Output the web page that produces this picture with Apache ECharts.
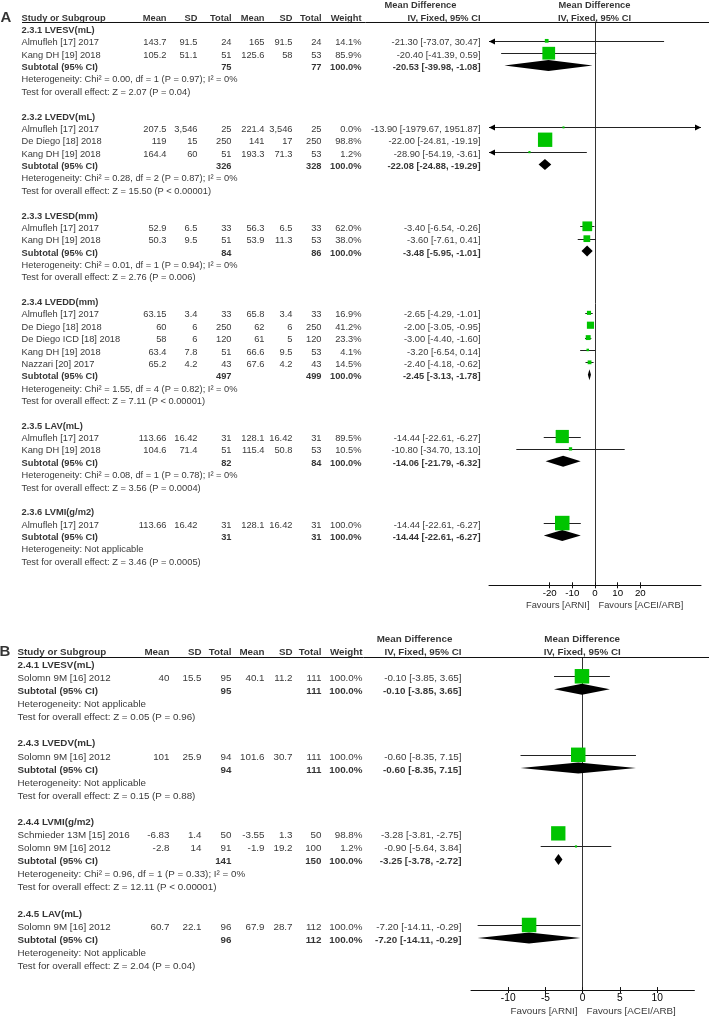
<!DOCTYPE html>
<html>
<head>
<meta charset="utf-8">
<script src="https://cdn.jsdelivr.net/npm/echarts@6/dist/echarts.min.js"></script>
<style>
  html, body { margin: 0; padding: 0; background: #fff; }
  #chart { width: 709px; height: 1019px; }
</style>
</head>
<body>
<div id="chart"></div>
<script>
// [subgroup, study, mean ARNI, SD, total, mean ACEI/ARB, SD, total, weight %, MD, CI low, CI high]
const studiesA = [
  ['2.3.1', 'Almufleh [17] 2017', 143.7, 91.5, 24, 165, 91.5, 24, 14.1, -21.30, -73.07, 30.47],
  ['2.3.1', 'Kang DH [19] 2018', 105.2, 51.1, 51, 125.6, 58, 53, 85.9, -20.40, -41.39, 0.59],
  ['2.3.2', 'Almufleh [17] 2017', 207.5, 3546, 25, 221.4, 3546, 25, 0.0, -13.90, -1979.67, 1951.87],
  ['2.3.2', 'De Diego [18] 2018', 119, 15, 250, 141, 17, 250, 98.8, -22.00, -24.81, -19.19],
  ['2.3.2', 'Kang DH [19] 2018', 164.4, 60, 51, 193.3, 71.3, 53, 1.2, -28.90, -54.19, -3.61],
  ['2.3.3', 'Almufleh [17] 2017', 52.9, 6.5, 33, 56.3, 6.5, 33, 62.0, -3.40, -6.54, -0.26],
  ['2.3.3', 'Kang DH [19] 2018', 50.3, 9.5, 51, 53.9, 11.3, 53, 38.0, -3.60, -7.61, 0.41],
  ['2.3.4', 'Almufleh [17] 2017', 63.15, 3.4, 33, 65.8, 3.4, 33, 16.9, -2.65, -4.29, -1.01],
  ['2.3.4', 'De Diego [18] 2018', 60, 6, 250, 62, 6, 250, 41.2, -2.00, -3.05, -0.95],
  ['2.3.4', 'De Diego ICD [18] 2018', 58, 6, 120, 61, 5, 120, 23.3, -3.00, -4.40, -1.60],
  ['2.3.4', 'Kang DH [19] 2018', 63.4, 7.8, 51, 66.6, 9.5, 53, 4.1, -3.20, -6.54, 0.14],
  ['2.3.4', 'Nazzari [20] 2017', 65.2, 4.2, 43, 67.6, 4.2, 43, 14.5, -2.40, -4.18, -0.62],
  ['2.3.5', 'Almufleh [17] 2017', 113.66, 16.42, 31, 128.1, 16.42, 31, 89.5, -14.44, -22.61, -6.27],
  ['2.3.5', 'Kang DH [19] 2018', 104.6, 71.4, 51, 115.4, 50.8, 53, 10.5, -10.80, -34.70, 13.10],
  ['2.3.6', 'Almufleh [17] 2017', 113.66, 16.42, 31, 128.1, 16.42, 31, 100.0, -14.44, -22.61, -6.27]
];

// [subgroup, title, total ARNI, total ACEI/ARB, MD, CI low, CI high, heterogeneity, overall effect]
const subgroupsA = [
  ['2.3.1', '2.3.1 LVESV(mL)', 75, 77, -20.53, -39.98, -1.08,
    'Heterogeneity: Chi² = 0.00, df = 1 (P = 0.97); I² = 0%', 'Test for overall effect: Z = 2.07 (P = 0.04)'],
  ['2.3.2', '2.3.2 LVEDV(mL)', 326, 328, -22.08, -24.88, -19.29,
    'Heterogeneity: Chi² = 0.28, df = 2 (P = 0.87); I² = 0%', 'Test for overall effect: Z = 15.50 (P < 0.00001)'],
  ['2.3.3', '2.3.3 LVESD(mm)', 84, 86, -3.48, -5.95, -1.01,
    'Heterogeneity: Chi² = 0.01, df = 1 (P = 0.94); I² = 0%', 'Test for overall effect: Z = 2.76 (P = 0.006)'],
  ['2.3.4', '2.3.4 LVEDD(mm)', 497, 499, -2.45, -3.13, -1.78,
    'Heterogeneity: Chi² = 1.55, df = 4 (P = 0.82); I² = 0%', 'Test for overall effect: Z = 7.11 (P < 0.00001)'],
  ['2.3.5', '2.3.5 LAV(mL)', 82, 84, -14.06, -21.79, -6.32,
    'Heterogeneity: Chi² = 0.08, df = 1 (P = 0.78); I² = 0%', 'Test for overall effect: Z = 3.56 (P = 0.0004)'],
  ['2.3.6', '2.3.6 LVMI(g/m2)', 31, 31, -14.44, -22.61, -6.27,
    'Heterogeneity: Not applicable', 'Test for overall effect: Z = 3.46 (P = 0.0005)']
];

const studiesB = [
  ['2.4.1', 'Solomn 9M [16] 2012', 40, 15.5, 95, 40.1, 11.2, 111, 100.0, -0.10, -3.85, 3.65],
  ['2.4.3', 'Solomn 9M [16] 2012', 101, 25.9, 94, 101.6, 30.7, 111, 100.0, -0.60, -8.35, 7.15],
  ['2.4.4', 'Schmieder 13M [15] 2016', -6.83, 1.4, 50, -3.55, 1.3, 50, 98.8, -3.28, -3.81, -2.75],
  ['2.4.4', 'Solomn 9M [16] 2012', -2.8, 14, 91, -1.9, 19.2, 100, 1.2, -0.90, -5.64, 3.84],
  ['2.4.5', 'Solomn 9M [16] 2012', 60.7, 22.1, 96, 67.9, 28.7, 112, 100.0, -7.20, -14.11, -0.29]
];

const subgroupsB = [
  ['2.4.1', '2.4.1 LVESV(mL)', 95, 111, -0.10, -3.85, 3.65,
    'Heterogeneity: Not applicable', 'Test for overall effect: Z = 0.05 (P = 0.96)'],
  ['2.4.3', '2.4.3 LVEDV(mL)', 94, 111, -0.60, -8.35, 7.15,
    'Heterogeneity: Not applicable', 'Test for overall effect: Z = 0.15 (P = 0.88)'],
  ['2.4.4', '2.4.4 LVMI(g/m2)', 141, 150, -3.25, -3.78, -2.72,
    'Heterogeneity: Chi² = 0.96, df = 1 (P = 0.33); I² = 0%', 'Test for overall effect: Z = 12.11 (P < 0.00001)'],
  ['2.4.5', '2.4.5 LAV(mL)', 96, 112, -7.20, -14.11, -0.29,
    'Heterogeneity: Not applicable', 'Test for overall effect: Z = 2.04 (P = 0.04)']
];

const ticksA = [-20, -10, 0, 10, 20];
const ticksB = [-10, -5, 0, 5, 10];
const columnHeaders = ['Study or Subgroup', 'Mean', 'SD', 'Total', 'Mean', 'SD', 'Total', 'Weight'];
const mdHeaders = ['Mean Difference', 'IV, Fixed, 95% CI'];
const favoursLabels = ['Favours [ARNI]', 'Favours [ACEI/ARB]'];

const FONT = '"Liberation Sans", Arial, Helvetica, sans-serif';
const GREEN = '#00c400';
const MARK_SHIFT = -2.5; // marks sit slightly above the text baseline centre

// layout of the two panels (pixels)
const panels = [
  {
    letter: 'A', studies: studiesA, groups: subgroupsA, ticks: ticksA,
    row0: 18.6, rowH: 12.365, font: 9.3,
    studyX: 22, numX: [167, 198, 232, 265, 293, 322, 362], mdX: 481, mdHeadX: 421,
    plotLeft: 489, plotWidth: 212, xMax: 46.75,
    ruleRow: 0.275, axisRow: 45.83, favRow: 47.48, favX: [590, 599], letterX: 1
  },
  {
    letter: 'B', studies: studiesB, groups: subgroupsB, ticks: ticksB,
    row0: 652.6, rowH: 13.09, font: 9.8,
    studyX: 18, numX: [170, 202, 232, 265, 293, 322, 363], mdX: 462, mdHeadX: 415,
    plotLeft: 471, plotWidth: 223.4, xMax: 15,
    ruleRow: 0.39, axisRow: 25.78, favRow: 27.43, favX: [578, 587], letterX: 0
  }
];

function fmtNum(v) {
  return v.toLocaleString('en-US', { maximumFractionDigits: 3 });
}

function fmtMD(md, lo, hi) {
  return md.toFixed(2) + ' [' + lo.toFixed(2) + ', ' + hi.toFixed(2) + ']';
}

function buildRows(studies, groups) {
  const rows = [];
  let r = 1;
  groups.forEach(g => {
    rows.push({ row: r++, type: 'group', g });
    studies.filter(s => s[0] === g[0]).forEach(s => rows.push({ row: r++, type: 'study', s }));
    rows.push({ row: r++, type: 'subtotal', g });
    rows.push({ row: r++, type: 'note', text: g[7] });
    rows.push({ row: r++, type: 'note', text: g[8] });
    r++;
  });
  return rows;
}

function txt(x, row, text, align, bold, size) {
  const label = { formatter: text, align: align };
  if (bold) label.fontWeight = 'bold';
  if (size) label.fontSize = size;
  return { value: [x, row], label };
}

function renderCI(params, api) {
  const cs = params.coordSys;
  const row = api.value(1);
  const y = Math.round(api.coord([0, row])[1] + MARK_SHIFT) + 0.5;
  let x1 = api.coord([api.value(2), row])[0];
  let x2 = api.coord([api.value(3), row])[0];
  const L = cs.x, R = cs.x + cs.width;
  const cutL = x1 < L, cutR = x2 > R;
  x1 = Math.max(x1, L);
  x2 = Math.min(x2, R);
  const children = [{
    type: 'line', shape: { x1: x1, y1: y, x2: x2, y2: y },
    style: { stroke: '#222', lineWidth: 1 }
  }];
  if (cutL) children.push({ type: 'polygon', shape: { points: [[L, y], [L + 6, y - 3], [L + 6, y + 3]] }, style: { fill: '#000' } });
  if (cutR) children.push({ type: 'polygon', shape: { points: [[R, y], [R - 6, y - 3], [R - 6, y + 3]] }, style: { fill: '#000' } });
  return { type: 'group', children };
}

function renderDiamond(params, api) {
  const row = api.value(1);
  const c = api.coord([api.value(0), row]);
  const y = c[1] + MARK_SHIFT;
  const x1 = api.coord([api.value(2), row])[0];
  const x2 = api.coord([api.value(3), row])[0];
  const h = 5.5;
  return {
    type: 'polygon',
    shape: { points: [[x1, y], [c[0], y - h], [x2, y], [c[0], y + h]] },
    style: { fill: '#000' }
  };
}

const grids = [], xAxes = [], yAxes = [], series = [];

panels.forEach(p => {
  const yMin = -1.6, yMax = p.favRow + 0.8;
  const gT = grids.length, xT = xAxes.length, yT = yAxes.length;

  grids.push({ left: 0, width: 709, top: p.row0 + yMin * p.rowH, height: (yMax - yMin) * p.rowH, outerBoundsMode: 'none' });
  grids.push({ left: p.plotLeft, width: p.plotWidth, top: p.row0 + p.ruleRow * p.rowH, height: (p.axisRow - p.ruleRow) * p.rowH, outerBoundsMode: 'none' });

  xAxes.push({ gridIndex: gT, type: 'value', min: 0, max: 709, show: false });
  xAxes.push({
    gridIndex: gT + 1, type: 'value', min: -p.xMax, max: p.xMax, position: 'bottom',
    axisLine: { onZero: false, lineStyle: { color: '#111', width: 1 } },
    axisTick: { customValues: p.ticks, length: 3, lineStyle: { color: '#111' } },
    axisLabel: { customValues: p.ticks, margin: 3, color: '#000', fontSize: p.font + 0.4, fontFamily: FONT },
    splitLine: { show: false }
  });
  xAxes.push({
    gridIndex: gT + 1, type: 'value', min: -p.xMax, max: p.xMax, position: 'bottom',
    axisLine: { show: false, onZero: false },
    axisTick: { customValues: p.ticks, inside: true, length: 3, lineStyle: { color: '#111' } },
    axisLabel: { show: false },
    splitLine: { show: false }
  });

  yAxes.push({ gridIndex: gT, type: 'value', min: yMin, max: yMax, inverse: true, show: false });
  yAxes.push({
    gridIndex: gT + 1, type: 'value', min: p.ruleRow, max: p.axisRow, inverse: true,
    axisLine: { show: true, onZero: true, lineStyle: { color: '#333', width: 1 } },
    axisTick: { show: false }, axisLabel: { show: false }, splitLine: { show: false }
  });

  const rows = buildRows(p.studies, p.groups);
  const plotCenter = p.plotLeft + p.plotWidth / 2;

  // table text
  const items = [];
  items.push(txt(p.letterX, 0, p.letter, 'left', true, 15));
  items.push(txt(p.studyX, 0, columnHeaders[0], 'left', true));
  p.numX.forEach((x, i) => items.push(txt(x, 0, columnHeaders[i + 1], 'right', true)));
  items.push(txt(p.mdHeadX, -1, mdHeaders[0], 'center', true));
  items.push(txt(p.mdX, 0, mdHeaders[1], 'right', true));
  items.push(txt(plotCenter, -1, mdHeaders[0], 'center', true));
  items.push(txt(plotCenter, 0, mdHeaders[1], 'center', true));

  rows.forEach(r => {
    if (r.type === 'group') {
      items.push(txt(p.studyX, r.row, r.g[1], 'left', true));
    } else if (r.type === 'study') {
      const s = r.s;
      items.push(txt(p.studyX, r.row, s[1], 'left'));
      for (let k = 0; k < 6; k++) items.push(txt(p.numX[k], r.row, fmtNum(s[2 + k]), 'right'));
      items.push(txt(p.numX[6], r.row, s[8].toFixed(1) + '%', 'right'));
      items.push(txt(p.mdX, r.row, fmtMD(s[9], s[10], s[11]), 'right'));
    } else if (r.type === 'subtotal') {
      const g = r.g;
      items.push(txt(p.studyX, r.row, 'Subtotal (95% CI)', 'left', true));
      items.push(txt(p.numX[2], r.row, fmtNum(g[2]), 'right', true));
      items.push(txt(p.numX[5], r.row, fmtNum(g[3]), 'right', true));
      items.push(txt(p.numX[6], r.row, '100.0%', 'right', true));
      items.push(txt(p.mdX, r.row, fmtMD(g[4], g[5], g[6]), 'right', true));
    } else {
      items.push(txt(p.studyX, r.row, r.text, 'left'));
    }
  });
  items.push(txt(p.favX[0], p.favRow, favoursLabels[0], 'right'));
  items.push(txt(p.favX[1], p.favRow, favoursLabels[1], 'left'));

  series.push({
    type: 'scatter', xAxisIndex: xT, yAxisIndex: yT, symbolSize: 1, silent: true, clip: false,
    itemStyle: { color: 'rgba(0,0,0,0)' },
    label: {
      show: true, position: [0, 0], verticalAlign: 'middle', color: '#000',
      fontFamily: FONT, fontSize: p.font
    },
    data: items,
    markLine: {
      silent: true, symbol: ['none', 'none'], animation: false,
      label: { show: false },
      lineStyle: { type: 'solid', color: '#111', width: 1 },
      data: [[{ coord: [p.studyX, p.ruleRow] }, { coord: [709, p.ruleRow] }]]
    }
  });

  // forest marks
  const studyRows = rows.filter(r => r.type === 'study');
  const subRows = rows.filter(r => r.type === 'subtotal');

  series.push({
    type: 'custom', xAxisIndex: xT + 1, yAxisIndex: yT + 1, silent: true, clip: false, z: 3,
    renderItem: renderCI, encode: { x: 0, y: 1 },
    data: studyRows.map(r => [r.s[9], r.row, r.s[10], r.s[11]])
  });
  series.push({
    type: 'scatter', xAxisIndex: xT + 1, yAxisIndex: yT + 1, silent: true, z: 4,
    symbol: 'rect', symbolSize: v => 2 + 12.5 * v[2] / 100, symbolOffset: [0, MARK_SHIFT],
    itemStyle: { color: GREEN, opacity: 1 },
    data: studyRows.map(r => [r.s[9], r.row, r.s[8]])
  });
  series.push({
    type: 'custom', xAxisIndex: xT + 1, yAxisIndex: yT + 1, silent: true, clip: false, z: 4,
    renderItem: renderDiamond, encode: { x: 0, y: 1 },
    data: subRows.map(r => [r.g[4], r.row, r.g[5], r.g[6]])
  });
});

const chart = echarts.init(document.getElementById('chart'));
chart.setOption({
  animation: false,
  backgroundColor: '#fff',
  textStyle: { fontFamily: FONT },
  grid: grids,
  xAxis: xAxes,
  yAxis: yAxes,
  series: series
});

window.addEventListener('resize', () => chart.resize());
</script>
</body>
</html>
